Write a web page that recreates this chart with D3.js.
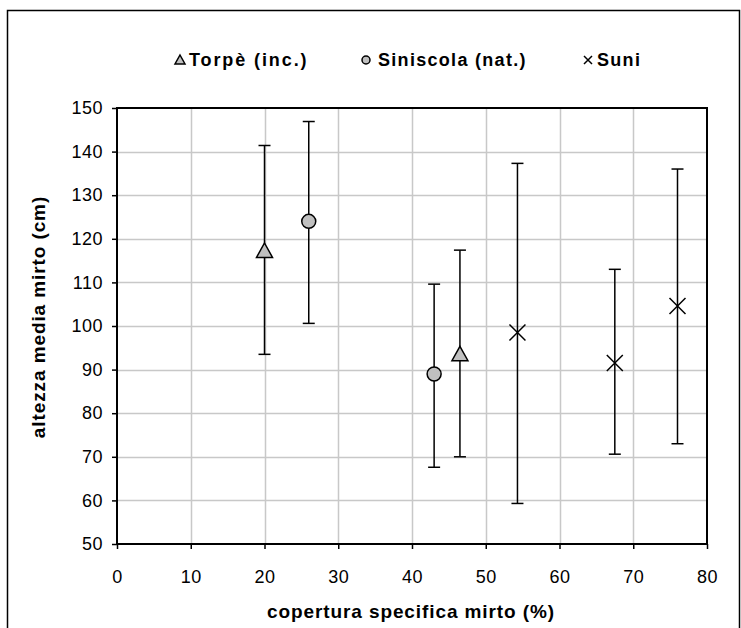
<!DOCTYPE html>
<html>
<head>
<meta charset="utf-8">
<script src="https://cdn.jsdelivr.net/npm/d3@7"></script>
<style>
  body { margin: 0; background: #fff; }
  text { font-family: "Liberation Sans", Arial, sans-serif; }
</style>
</head>
<body>
<svg id="chart" width="741" height="628"></svg>
<script>
// values
const seriesNames = ["Torpè (inc.)", "Siniscola (nat.)", "Suni"];
const torpeX = [20, 46.5];
const torpeY = [117.2, 93.5];
const torpeLow = [93.5, 70];
const torpeHigh = [141.4, 117.4];
const siniscolaX = [26, 43];
const siniscolaY = [124, 89];
const siniscolaLow = [100.6, 67.6];
const siniscolaHigh = [146.9, 109.6];
const suniX = [54.3, 67.5, 76];
const suniY = [98.5, 91.5, 104.6];
const suniLow = [59.3, 70.6, 73];
const suniHigh = [137.3, 113, 136];
const xTicks = [0, 10, 20, 30, 40, 50, 60, 70, 80];
const yTicks = [50, 60, 70, 80, 90, 100, 110, 120, 130, 140, 150];

const dims = { left: 117, right: 707, top: 108, bottom: 544 };

const svg = d3.select("#chart");

function pts(xs, ys, lo, hi) {
    return xs.map(function(x, i) {
        return { x: x, y: ys[i], lo: lo[i], hi: hi[i] };
    });
}
const series = [
    { name: seriesNames[0], shape: "triangle", data: pts(torpeX, torpeY, torpeLow, torpeHigh) },
    { name: seriesNames[1], shape: "circle", data: pts(siniscolaX, siniscolaY, siniscolaLow, siniscolaHigh) },
    { name: seriesNames[2], shape: "cross", data: pts(suniX, suniY, suniLow, suniHigh) }
];

// outer chart border
svg.append("rect")
    .attr("x", 7.5).attr("y", 10.5)
    .attr("width", 732).attr("height", 640)
    .attr("fill", "none").attr("stroke", "#000").attr("stroke-width", 1.5);

const xScale = d3.scaleLinear().domain([0, 80]).range([dims.left, dims.right]);
const yScale = d3.scaleLinear().domain([50, 150]).range([dims.bottom, dims.top]);

// gridlines
const grid = svg.append("g");
grid.selectAll(".gx").data(xTicks.slice(1, -1)).enter().append("line")
    .attr("x1", d => Math.round(xScale(d)) + 0.5).attr("x2", d => Math.round(xScale(d)) + 0.5)
    .attr("y1", dims.top).attr("y2", dims.bottom)
    .attr("stroke", "#c8c8c8").attr("stroke-width", 1.5);
grid.selectAll(".gy").data(yTicks.slice(1, -1)).enter().append("line")
    .attr("y1", d => Math.round(yScale(d)) + 0.5).attr("y2", d => Math.round(yScale(d)) + 0.5)
    .attr("x1", dims.left).attr("x2", dims.right)
    .attr("stroke", "#c8c8c8").attr("stroke-width", 1.5);

// plot frame
svg.append("rect")
    .attr("x", dims.left).attr("y", dims.top)
    .attr("width", dims.right - dims.left).attr("height", dims.bottom - dims.top)
    .attr("fill", "none").attr("stroke", "#000").attr("stroke-width", 2);

// axes
const xAxis = d3.axisBottom(xScale).tickValues(xTicks).tickSize(5).tickPadding(21);
const yAxis = d3.axisLeft(yScale).tickValues(yTicks).tickSize(5).tickPadding(9);

const gx = svg.append("g")
    .attr("transform", "translate(0," + dims.bottom + ")")
    .call(xAxis);
const gy = svg.append("g")
    .attr("transform", "translate(" + dims.left + ",0)")
    .call(yAxis);
[gx, gy].forEach(function(g) {
    g.select(".domain").remove();
    g.selectAll(".tick line").attr("stroke", "#000").attr("stroke-width", 1.5);
    g.selectAll(".tick text").attr("fill", "#000")
        .style("font-family", "'Liberation Sans', Arial, sans-serif")
        .style("font-size", "18px")
        .style("letter-spacing", "0.5px");
});

// axis titles
svg.append("text")
    .attr("x", 411).attr("y", 618)
    .attr("text-anchor", "middle")
    .style("font-size", "19px").style("font-weight", "bold")
    .style("letter-spacing", "0.9px")
    .text("copertura specifica mirto (%)");
svg.append("text")
    .attr("transform", "translate(45,317) rotate(-90)")
    .attr("text-anchor", "middle")
    .style("font-size", "19px").style("font-weight", "bold")
    .style("letter-spacing", "0.9px")
    .text("altezza media mirto (cm)");

function drawMarker(g, shape, cx, cy, s) {
    if (shape === "triangle") {
        g.append("path")
            .attr("d", "M" + cx + "," + (cy - s) + "L" + (cx + s) + "," + (cy + s * 0.8) +
                "L" + (cx - s) + "," + (cy + s * 0.8) + "Z")
            .attr("fill", "#c0c0c0").attr("stroke", "#000").attr("stroke-width", 1.5);
    } else if (shape === "circle") {
        g.append("circle")
            .attr("cx", cx).attr("cy", cy).attr("r", s)
            .attr("fill", "#c0c0c0").attr("stroke", "#000").attr("stroke-width", 1.5);
    } else {
        g.append("path")
            .attr("d", "M" + (cx - s) + "," + (cy - s) + "L" + (cx + s) + "," + (cy + s) +
                "M" + (cx - s) + "," + (cy + s) + "L" + (cx + s) + "," + (cy - s))
            .attr("fill", "none").attr("stroke", "#000").attr("stroke-width", 1.5);
    }
}

// error bars + markers
const marks = svg.append("g");
series.forEach(function(s) {
    s.data.forEach(function(d) {
        const cx = xScale(d.x);
        marks.append("line")
            .attr("x1", cx).attr("x2", cx)
            .attr("y1", yScale(d.lo)).attr("y2", yScale(d.hi))
            .attr("stroke", "#000").attr("stroke-width", 1.5);
        [d.lo, d.hi].forEach(function(v) {
            marks.append("line")
                .attr("x1", cx - 6).attr("x2", cx + 6)
                .attr("y1", yScale(v)).attr("y2", yScale(v))
                .attr("stroke", "#000").attr("stroke-width", 1.5);
        });
    });
});
series.forEach(function(s) {
    s.data.forEach(function(d) {
        const size = s.shape === "triangle" ? 8 : s.shape === "circle" ? 7 : 8;
        drawMarker(marks, s.shape, xScale(d.x), yScale(d.y), size);
    });
});

// legend
const legendX = [180, 366, 588];
const legendTextX = [189, 378, 597];
const legendSpacing = [1.9, 1.3, 1.3];
const legend = svg.append("g");
series.forEach(function(s, i) {
    if (s.shape === "cross") {
        drawMarker(legend, s.shape, legendX[i], 60, 4);
    } else {
        drawMarker(legend, s.shape, legendX[i], 60, s.shape === "circle" ? 4 : 5);
    }
    legend.append("text")
        .attr("x", legendTextX[i]).attr("y", 66)
        .style("font-size", "18px").style("font-weight", "bold")
        .style("letter-spacing", legendSpacing[i] + "px")
        .text(s.name);
});
</script>
</body>
</html>
